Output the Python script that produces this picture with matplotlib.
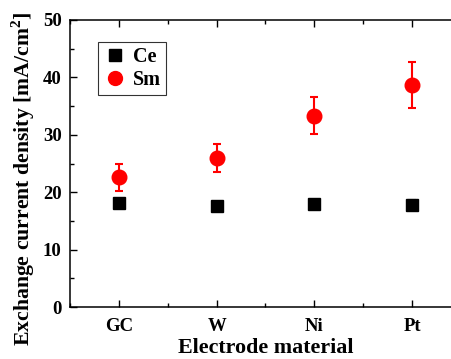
import numpy as np
import matplotlib.pyplot as plt
from matplotlib.lines import Line2D
from matplotlib.ticker import MultipleLocator

materials = ['GC', 'W', 'Ni', 'Pt']
ce_vals = [18.1, 17.6, 18.0, 17.8]
ce_err = [0.5, 0.4, 0.5, 0.9]
sm_vals = [22.6, 26.0, 33.3, 38.7]
sm_err = [2.4, 2.4, 3.2, 4.0]

plt.rcParams['font.family'] = ['Liberation Serif', 'DejaVu Serif']
plt.rcParams['font.weight'] = 'bold'
plt.rcParams['mathtext.fontset'] = 'custom'
plt.rcParams['mathtext.bf'] = 'Liberation Serif:bold'

fig = plt.figure(figsize=(4.52, 3.59), dpi=100)
ax = fig.add_axes([70 / 452, 1 - 307 / 359, 391 / 452, 287 / 359])

x = np.arange(1, len(materials) + 1)
ax.errorbar(x, ce_vals, yerr=ce_err, fmt='s', color='black', ms=8.5,
            elinewidth=1.5, capsize=3, capthick=1.5, zorder=3)
ax.errorbar(x, sm_vals, yerr=sm_err, fmt='o', color='red', ms=10.5,
            elinewidth=1.5, capsize=3, capthick=1.5, zorder=3)

ax.set_xlim(0.5, 4.5)
ax.set_ylim(0, 50)
ax.set_xticks(x)
ax.set_xticklabels(materials)
ax.xaxis.set_minor_locator(MultipleLocator(0.5))
ax.yaxis.set_major_locator(MultipleLocator(10))
ax.yaxis.set_minor_locator(MultipleLocator(5))
ax.tick_params(which='both', direction='in', top=True, right=False, width=1)
ax.tick_params(which='major', length=5, labelsize=13.5)
ax.tick_params(which='minor', length=3)
ax.tick_params(axis='x', pad=8)
ax.tick_params(axis='y', pad=6)
for lab in ax.get_xticklabels() + ax.get_yticklabels():
    lab.set_fontweight('bold')
for s in ax.spines.values():
    s.set_linewidth(1.1)

ax.set_xlabel('Electrode material', fontsize=15.8, fontweight='bold', labelpad=2)
ax.set_ylabel('Exchange current density [mA/cm$^\\mathbf{2}$]', fontsize=15.7,
              fontweight='bold')
ax.yaxis.set_label_coords(-0.085, 0.448)

handles = [Line2D([], [], ls='none', marker='s', color='black', ms=8),
           Line2D([], [], ls='none', marker='o', color='red', ms=10)]
leg = ax.legend(handles, ['Ce', 'Sm'], loc='upper left',
                bbox_to_anchor=((98 - 70) / 391, (307 - 42) / 287),
                borderaxespad=0, fontsize=14.5, frameon=True, fancybox=False,
                edgecolor='black', handletextpad=0.3, borderpad=0.25,
                labelspacing=0.15, handlelength=1.2)
leg.get_frame().set_linewidth(0.8)
for t in leg.get_texts():
    t.set_fontweight('bold')

fig.savefig('out.png', dpi=100)
